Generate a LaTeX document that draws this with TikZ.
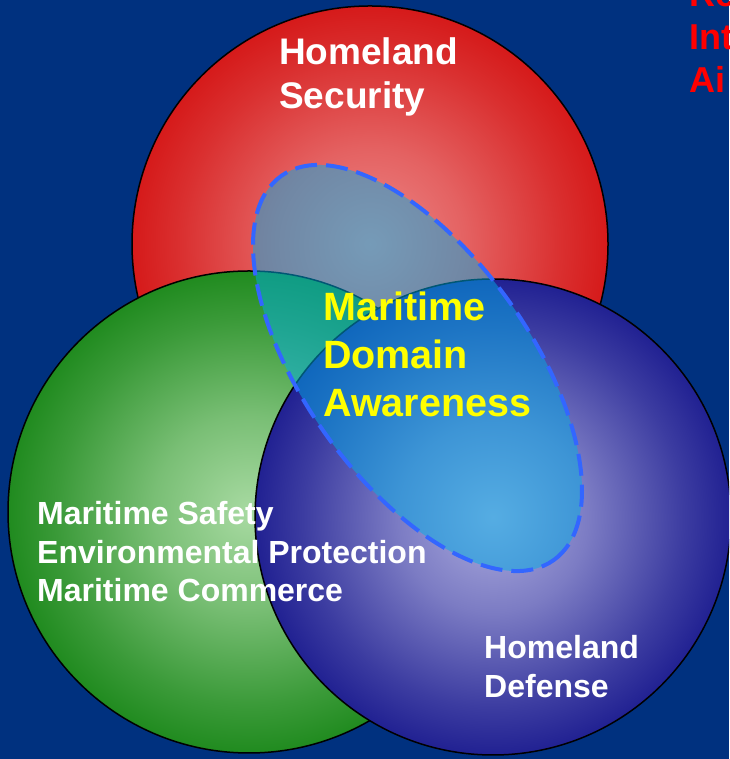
\documentclass[tikz,border=0pt]{standalone}
\usepackage{fontspec}
\setmainfont{Liberation Sans}
\usepackage{tikz}
\usetikzlibrary{positioning}
\usepackage{xcolor}
\definecolor{slideblue}{HTML}{00317F}
\definecolor{redin}{HTML}{EC8888}
\definecolor{redout}{HTML}{D00000}
\definecolor{greenin}{HTML}{A8DAA2}
\definecolor{greenout}{HTML}{007800}
\definecolor{bluein}{HTML}{ACACDE}
\definecolor{blueout}{HTML}{000080}
\definecolor{mdafill}{HTML}{00AEE8}
\definecolor{mdaline}{HTML}{3366FF}
\definecolor{mdatext}{HTML}{FFFF00}
\pgfdeclareradialshading{redball}{\pgfpoint{0bp}{0bp}}{color(0bp)=(redin); color(10bp)=(redin!72!redout);
  color(20bp)=(redin!35!redout); color(31bp)=(redout); color(50bp)=(redout)}
\pgfdeclareradialshading{greenball}{\pgfpoint{0bp}{0bp}}{color(0bp)=(greenin); color(10bp)=(greenin!72!greenout);
  color(20bp)=(greenin!35!greenout); color(31bp)=(greenout); color(50bp)=(greenout)}
\pgfdeclareradialshading{blueball}{\pgfpoint{0bp}{0bp}}{color(0bp)=(bluein); color(10bp)=(bluein!72!blueout);
  color(20bp)=(bluein!35!blueout); color(31bp)=(blueout); color(50bp)=(blueout)}
\tikzset{
  ring/.style={draw=black, line width=1.5pt},
  lbl/.style={anchor=north west, inner sep=0pt, align=left, font=\bfseries}
}

\begin{document}
\begin{tikzpicture}[x=1pt, y=1pt]
\useasboundingbox (0,0) rectangle (729,759);
\clip (0,0) rectangle (729,759);
\fill[slideblue] (0,0) rectangle (729,759);
% the three mission areas
\draw[ring, shading=redball] (370,515) circle (238);
\draw[ring, shading=greenball] (249,247) circle (241);
\draw[ring, shading=blueball] (493,242) circle (238);
% awareness overlay
\draw[mdaline, line width=4pt, dash pattern=on 22pt off 9pt, fill=mdafill, fill opacity=0.5,
      rotate around={-54.7:(417.5,391)}] (417.5,391) ellipse [x radius=235.5, y radius=113.2];
\node[lbl, text=white, font=\bfseries\fontsize{37}{43.5}\selectfont] (hs) at (279,721) {Homeland\\Security};
\node[lbl, text=mdatext, font=\bfseries\fontsize{39.5}{48}\selectfont] (mda) at (323,467.5) {Maritime\\Domain\\Awareness};
\node[lbl, text=white, font=\bfseries\fontsize{32}{38.8}\selectfont] (safety) at (37,258) {Maritime Safety\\Environmental Protection\\Maritime Commerce};
\node[lbl, text=white, font=\bfseries\fontsize{32}{39}\selectfont] (hd) at (484,124) {Homeland\\Defense};
\node[lbl, text=red, font=\bfseries\fontsize{36}{43}\selectfont] (side) at (689,777.8) {Re\\Int\\Ai};
\end{tikzpicture}
\end{document}
